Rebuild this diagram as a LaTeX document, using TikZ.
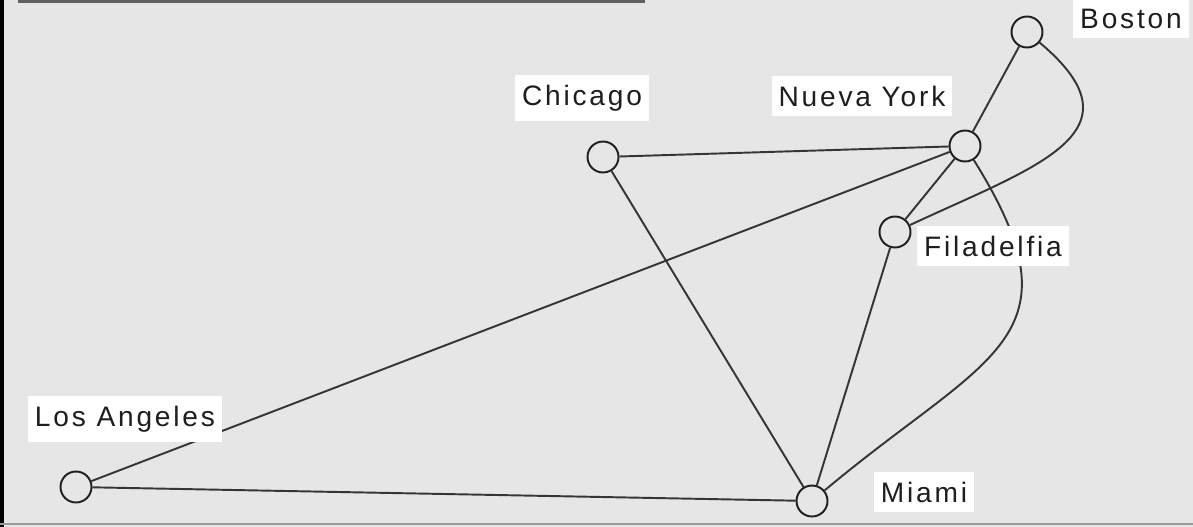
\documentclass[tikz,border=0pt]{standalone}
\usepackage{fontspec}
\setmainfont{Liberation Sans}[LetterSpace=10]
\usetikzlibrary{positioning}

\definecolor{paper}{HTML}{E6E6E6}
\definecolor{ink}{HTML}{1E1E1E}

\begin{document}
\begin{tikzpicture}[
  x=0.02cm, y=-0.02cm,
  city/.style={draw=ink, circle, line width=1.1pt, minimum size=0.62cm, inner sep=0pt},
  lbl/.style={fill=white, text=ink, inner xsep=4pt, inner ysep=5.5pt, font=\fontsize{16}{19}\selectfont},
  road/.style={draw=ink!90, line width=1.1pt}
]
\useasboundingbox (0,0) rectangle (1193,527);
\fill[paper] (0,0) rectangle (1193,527);
% frame
\draw[black, line width=2.6pt] (1.5,0) -- (1.5,527);
\draw[ink!70, line width=1.6pt] (18,1.5) -- (645,1.5);
\draw[ink!45, line width=1pt] (0,524) -- (1193,524);

% cities
\node[city] (bos) at (1027,32) {};
\node[city] (ny) at (965,146) {};
\node[city] (chi) at (603,157) {};
\node[city] (fil) at (895,232) {};
\node[city] (la) at (76,487) {};
\node[city] (mia) at (812,501) {};

% roads
\draw[road] (chi) -- (ny);
\draw[road] (chi) -- (mia);
\draw[road] (la) -- (ny);
\draw[road] (la) -- (mia);
\draw[road] (ny) -- (bos);
\draw[road] (ny) -- (fil);
\draw[road] (fil) -- (mia);
\draw[road] (bos) to[out=-40, in=25, looseness=1.6] (fil);
\draw[road] (ny) to[out=-58, in=40, looseness=1.5] (mia);

% names
\node[lbl] (bos-l) at (1131,19) {Boston};
\node[lbl] (ny-l) at (862,96) {Nueva York};
\node[lbl] (chi-l) at (582,98) {Chicago};
\node[lbl] (fil-l) at (993,246) {Filadelfia};
\node[lbl] (la-l) at (125,419) {Los Angeles};
\node[lbl] (mia-l) at (924,492) {Miami};
\end{tikzpicture}
\end{document}
